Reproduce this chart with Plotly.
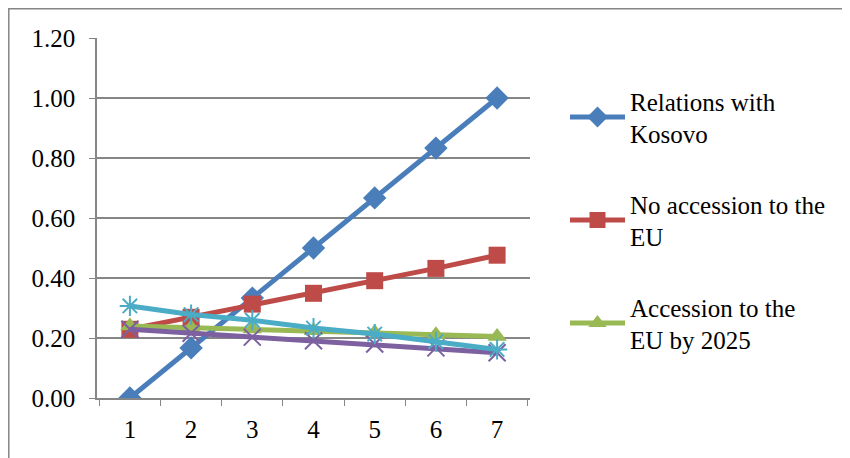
import plotly.graph_objects as go

categories = ["1", "2", "3", "4", "5", "6", "7"]
kosovo = [0.0, 0.167, 0.333, 0.5, 0.667, 0.833, 1.0]
no_accession = [0.229, 0.269, 0.313, 0.349, 0.391, 0.432, 0.476]
accession_2025 = [0.240, 0.234, 0.230, 0.224, 0.218, 0.211, 0.205]
series4 = [0.229, 0.216, 0.203, 0.191, 0.180, 0.167, 0.151]
series5 = [0.307, 0.278, 0.259, 0.233, 0.213, 0.188, 0.162]

FONT = "Liberation Serif"
fig = go.Figure()

def add(name, y, color, symbol, size, show, group, mline=None):
    marker = dict(symbol=symbol, size=size, color=color)
    if mline:
        marker["line"] = dict(color=color, width=mline)
    fig.add_trace(go.Scatter(
        x=categories, y=y, name=name, mode="lines+markers",
        line=dict(color=color, width=5), marker=marker,
        showlegend=show, legendgroup=group))

add("Relations with<br>Kosovo", kosovo, "#4A7EBB", "diamond", 18, True, "a")
add("No accession to the<br>EU", no_accession, "#BE4B48", "square", 17, True, "b")
add("Accession to the<br>EU by 2025", accession_2025, "#98B954", "triangle-up", 17, True, "c")
add("Series 4", series4, "#7D60A0", "x-thin-open", 17, False, "d", mline=2)
add("Series 5", series5, "#4BACC6", "asterisk-open", 17, False, "e", mline=2)

# page is offset by 8px (body margin); compensate
OFF = 8
W, H = 850, 458
L, T = 97 - OFF, 38 - OFF
pw, ph = 433, 360
R, B = W - L - pw, H - T - ph

fig.update_layout(
    width=W, height=H,
    margin=dict(l=L, r=R, t=T, b=B),
    plot_bgcolor="white", paper_bgcolor="white",
    font=dict(family=FONT, size=25, color="black"),
    xaxis=dict(type="category", showgrid=False, showline=True, linecolor="#868686",
               linewidth=1.5, ticks="outside", tickson="boundaries", ticklen=6,
               tickcolor="#868686", tickfont=dict(size=25), zeroline=False,
               ticklabelstandoff=8),
    yaxis=dict(range=[0, 1.2], dtick=0.2, tickformat=".2f", showgrid=True,
               gridcolor="#868686", gridwidth=1.5, showline=True, linecolor="#868686",
               linewidth=1.5, ticks="outside", ticklen=6, tickcolor="#868686",
               zeroline=False, tickfont=dict(size=25), ticklabelstandoff=9),
    legend=dict(x=(565 - OFF - L) / pw, y=1 - (78 - OFF - T) / ph, xanchor="left", yanchor="top",
                tracegroupgap=35, traceorder="grouped", font=dict(size=25),
                itemwidth=55, bgcolor="rgba(0,0,0,0)"),
    shapes=[dict(type="rect", xref="paper", yref="paper",
                 x0=(0.8 - L) / pw, x1=(900 - L) / pw,
                 y0=1 - (500 - T) / ph, y1=1 + (T - 0.8) / ph,
                 line=dict(color="#868686", width=1.5), layer="below")],
)

fig.write_html("out.html")
